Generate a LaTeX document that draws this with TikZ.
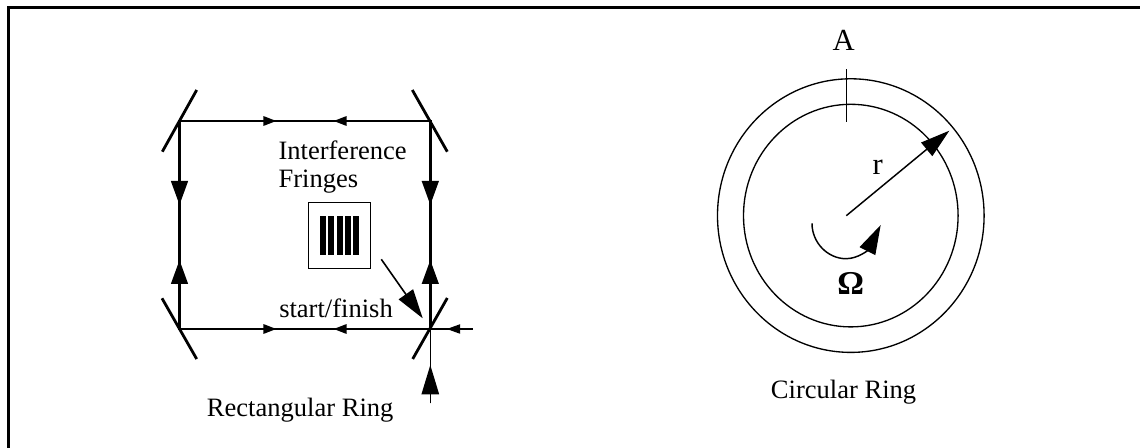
\documentclass[tikz,border=0pt]{standalone}
\usepackage{fontspec}
\setmainfont{Liberation Serif}
\usetikzlibrary{arrows.meta}

\begin{document}
\begin{tikzpicture}[x=0.75pt,y=-0.75pt,
        smallhead/.style={-{Triangle[length=10pt,width=6.8pt]}},
        bighead/.style={-{Triangle[length=18pt,width=12.4pt]}},
        hugehead/.style={-{Triangle[length=22pt,width=13pt]}},
        ring/.style={draw,line width=2.1pt},
        mirror/.style={draw,line width=2.1pt},
        thinline/.style={draw,line width=1.2pt},
        label/.style={inner sep=0pt,anchor=base west,font=\fontsize{19.9}{20.5}\selectfont},
        biglabel/.style={inner sep=0pt,anchor=base west,font=\fontsize{23}{24}\selectfont}]

  \useasboundingbox (0,0) rectangle (1140,448);

  % frame
  \coordinate (fa) at (8.5,448);
  \coordinate (fb) at (8.5,7.5);
  \coordinate (fc) at (1140,7.5);
  \draw[line width=2pt] (fa) -- (fb) -- (fc);

  % corners of the rectangular ring
  \coordinate (tl) at (179.5,121);
  \coordinate (tr) at (430.3,121);
  \coordinate (bl) at (179.5,329);
  \coordinate (br) at (430.3,329);

  % where the arrows stop
  \coordinate (ttr) at (276.7,121);
  \coordinate (ttl) at (333.3,121);
  \coordinate (btr) at (276.7,329);
  \coordinate (btl) at (333.3,329);
  \coordinate (ld) at (179.5,205);
  \coordinate (lu) at (179.5,260);
  \coordinate (rd) at (430.3,205);
  \coordinate (ru) at (430.3,260);

  \path[ring] (tl) -- (tr) -- (br) -- (bl) -- cycle;
  \path[line width=2.1pt]
        (tl) edge [smallhead] (ttr)
        (tr) edge [smallhead] (ttl)
        (bl) edge [smallhead] (btr)
        (br) edge [smallhead] (btl)
        (tl) edge [bighead] (ld)
        (bl) edge [bighead] (lu)
        (tr) edge [bighead] (rd)
        (br) edge [bighead] (ru);

  % mirrors
  \coordinate (ma) at (196.7,90);
  \coordinate (mb) at (162.3,151.7);
  \coordinate (mc) at (412.3,90);
  \coordinate (md) at (447.3,151.7);
  \coordinate (me) at (162,298.3);
  \coordinate (mf) at (196.7,359);
  \coordinate (mg) at (447.3,298);
  \coordinate (mh) at (412.7,359);
  \path[mirror] (ma) -- (mb) (mc) -- (md) (me) -- (mf) (mg) -- (mh);

  % input beams
  \coordinate (ia) at (430.3,403.5);
  \coordinate (ib) at (430.3,365);
  \coordinate (ic) at (472.7,329);
  \coordinate (id) at (446.7,329);
  \path[thinline] (ia) -- (br) (ic) -- (br);
  \path[line width=1.2pt]
        (ia) edge [hugehead] (ib)
        (ic) edge [smallhead] (id);

  % fringes
  \node[draw,line width=1pt,inner sep=0pt,minimum width=62.4*0.75pt,minimum height=66*0.75pt] (fringes) at (339.5,235.7) {};
  \foreach \i in {323,331.3,339.7,348,356.3} {
    \fill (\i-3,216) rectangle (\i+3,255);
  }
  \coordinate (pa) at (381.3,259.3);
  \coordinate (pb) at (422.7,318.3);
  \draw[line width=1.2pt,hugehead] (pa) -- (pb);

  \node[label] (interference) at (278.3,160) {Interference};
  \node[label] (fringelabel) at (278.3,187.3) {Fringes};
  \node[label] (start) at (279,317.3) {start/finish};
  \node[label] (rectname) at (206.7,416.7) {Rectangular Ring};

  % circular ring
  \coordinate (centre) at (850.8,215.6);
  \draw[line width=1pt] (centre) ellipse [x radius=133.3,y radius=136.8];
  \draw[line width=1pt] (centre) ellipse [x radius=107.3,y radius=111.3];
  \coordinate (aa) at (846.3,69.3);
  \coordinate (ab) at (846.3,121.7);
  \draw[line width=1.1pt] (aa) -- (ab);
  \coordinate (ra) at (846.3,215.7);
  \coordinate (rb) at (949.3,130.7);
  \draw[line width=1.1pt,hugehead] (ra) -- (rb);
  \coordinate (oa) at (812,223.3);
  \coordinate (ob) at (846,258.7);
  \coordinate (oc) at (880.7,225);
  \draw[line width=1.1pt,hugehead] (oa) .. controls (812,243) and (828,258.7) .. (ob)
        .. controls (858,258.7) and (868,250) .. (oc);

  \node[biglabel] (alabel) at (832.3,51) {A};
  \node[biglabel] (rlabel) at (872.3,175) {r};
  \node[biglabel,font=\fontsize{25}{26}\selectfont] (omega) at (837,295) {\bfseries Ω};
  \node[label] (circname) at (770.7,399) {Circular Ring};

\end{tikzpicture}
\end{document}
